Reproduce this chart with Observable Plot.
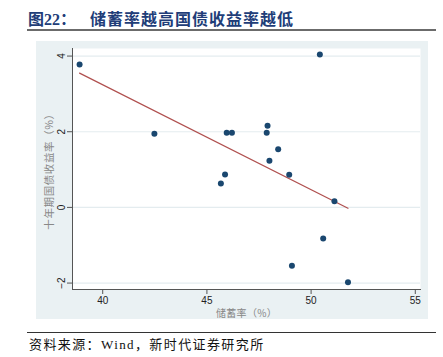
<!DOCTYPE html>
<html>
<head>
<meta charset="utf-8">
<script src="https://cdn.jsdelivr.net/npm/d3@7"></script>
<script src="https://cdn.jsdelivr.net/npm/@observablehq/plot@0.6"></script>
<style>
  html, body { margin: 0; padding: 0; background: #fff; }
  body { width: 443px; height: 357px; position: relative; overflow: hidden; }
  #title { position: absolute; left: 28px; top: 8px; font-family: "Noto Sans CJK SC", sans-serif; font-weight: 700; font-size: 16px; line-height: 20px; color: #213d78; letter-spacing: 1px; white-space: nowrap; }
  #title .num { font-family: "Liberation Serif", "Noto Sans CJK SC", serif; font-weight: 700; letter-spacing: 0; }
  #rule1 { position: absolute; left: 27px; top: 29px; width: 409px; height: 2px; background: #6b6b6b; }
  #chart { position: absolute; left: 36px; top: 41px; width: 392px; height: 278px; background: #eaf1f3; }
  #rule2 { position: absolute; left: 27px; top: 332px; width: 409px; height: 1px; background: #333; }
  #caption { position: absolute; left: 29px; top: 336px; font-family: "Liberation Serif", "Noto Sans CJK SC", serif; font-size: 13px; line-height: 17px; color: #111; letter-spacing: 1.4px; white-space: nowrap; }
</style>
</head>
<body>
<div id="title"><span class="num">图22：</span>&nbsp;&nbsp;&nbsp;储蓄率越高国债收益率越低</div>
<div id="rule1"></div>
<div id="chart"></div>
<div id="rule2"></div>
<div id="caption">资料来源：Wind，新时代证券研究所</div>
<script>
// Savings rate (%) and 10-year government bond yield (%)
const savingsRate = [38.89, 42.48, 45.67, 45.87, 45.95, 46.20, 47.87, 47.91, 48.00, 48.42, 48.95, 50.42, 50.58, 51.12, 49.08, 51.77];
const bondYield   = [3.78, 1.95, 0.63, 0.87, 1.97, 1.97, 1.97, 2.16, 1.23, 1.54, 0.86, 4.04, -0.82, 0.16, -1.54, -1.98];
const xTicks = [40, 45, 50, 55];
const yTicks = [-2, 0, 2, 4];
const xLabel = "储蓄率（%）";
const yLabel = "十年期国债收益率（%）";

const data = savingsRate.map((s, i) => ({s, y: bondYield[i]}));

const chart = Plot.plot({
  width: 392,
  height: 278,
  marginLeft: 36,
  marginRight: 8,
  marginTop: 7,
  marginBottom: 30,
  style: {background: "transparent", fontFamily: "Liberation Sans, Arial, sans-serif", fontSize: "10px", color: "#222"},
  x: {domain: [38.55, 55.25]},
  y: {domain: [-2.17, 4.2]},
  marks: [
    Plot.frame({fill: "white", stroke: null}),
    Plot.gridY(yTicks, {stroke: "#e4ecef", strokeOpacity: 1, strokeWidth: 1.2}),
    Plot.frame({anchor: "left", stroke: "#555"}),
    Plot.frame({anchor: "bottom", stroke: "#555"}),
    Plot.axisY(yTicks, {tickSize: 5, tickPadding: 3, tickRotate: -90, stroke: "#555", fill: "#222",
      label: yLabel, labelAnchor: "center", labelArrow: "none", labelOffset: 27}),
    Plot.axisX(xTicks, {tickSize: 5, tickPadding: 2, stroke: "#555", fill: "#222",
      label: xLabel, labelAnchor: "center", labelArrow: "none", labelOffset: 27}),
    Plot.linearRegressionY(data, {x: "s", y: "y", ci: 0, stroke: "#b0504f", strokeWidth: 1.2}),
    Plot.dot(data, {x: "s", y: "y", r: 3, fill: "#1a476f", stroke: null})
  ]
});
document.getElementById("chart").appendChild(chart);
// axis title styles
chart.querySelectorAll("g[aria-label='y-axis label'] text").forEach(t => {
  t.setAttribute("fill", "#888"); t.style.fontFamily = "Noto Sans CJK SC, sans-serif";
  t.style.fontSize = "10.5px"; t.style.letterSpacing = "0.6px";
});
chart.querySelectorAll("g[aria-label='x-axis label'] text").forEach(t => {
  t.setAttribute("fill", "#888"); t.style.fontFamily = "Noto Sans CJK SC, sans-serif";
  t.style.fontSize = "10px"; t.style.letterSpacing = "0.3px";
});
</script>
</body>
</html>
